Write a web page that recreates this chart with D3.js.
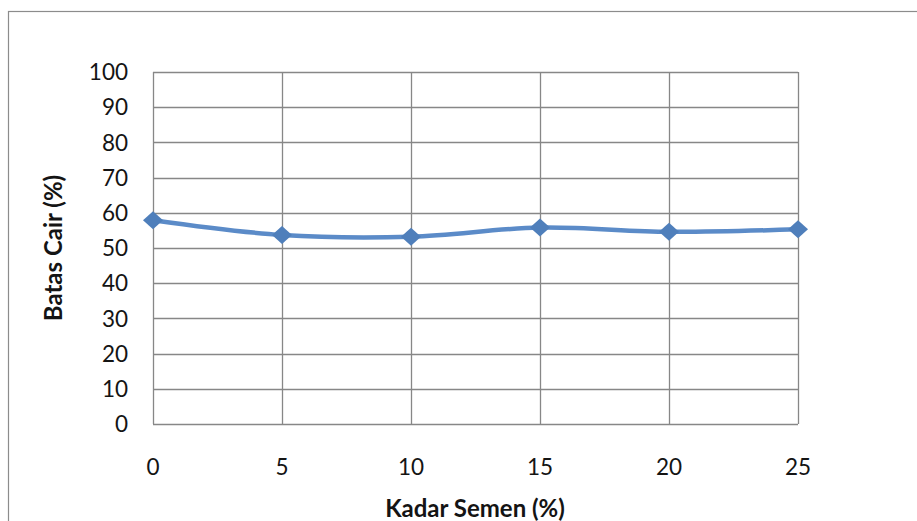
<!DOCTYPE html>
<html>
<head>
<meta charset="utf-8">
<script src="https://cdn.jsdelivr.net/npm/d3@7"></script>
<style>
  html, body { margin: 0; padding: 0; background: #ffffff; }
  svg { display: block; font-family: Lato, "Open Sans", sans-serif; }
</style>
</head>
<body>
<svg id="chart" width="917" height="521"></svg>
<script>
// Cement content (%) vs. liquid limit (%)
const kadarSemen = [0, 5, 10, 15, 20, 25];
const batasCair = [57.9, 53.7, 53.2, 55.8, 54.6, 55.3];
const yTicks = [0, 10, 20, 30, 40, 50, 60, 70, 80, 90, 100];
const xTicks = [0, 5, 10, 15, 20, 25];

const svg = d3.select("#chart");
const plot = { left: 153, right: 798, top: 72, bottom: 424 };

const x = d3.scaleLinear().domain([0, 25]).range([plot.left, plot.right]);
const y = d3.scaleLinear().domain([0, 100]).range([plot.bottom, plot.top]);

// outer chart frame (only top/left edges fall inside the view)
svg.append("rect")
  .attr("x", 8.5).attr("y", 11.5)
  .attr("width", 1200).attr("height", 1200)
  .attr("fill", "none").attr("stroke", "#8c8c8c").attr("stroke-width", 1.2);

const gridColor = "#878787";

// horizontal gridlines
svg.append("g")
  .selectAll("line")
  .data(yTicks)
  .join("line")
  .attr("x1", plot.left).attr("x2", plot.right)
  .attr("y1", d => Math.round(y(d)) + 0.5).attr("y2", d => Math.round(y(d)) + 0.5)
  .attr("stroke", gridColor).attr("stroke-width", 1.3);

// vertical gridlines
svg.append("g")
  .selectAll("line")
  .data(xTicks)
  .join("line")
  .attr("x1", d => Math.round(x(d)) + 0.5).attr("x2", d => Math.round(x(d)) + 0.5)
  .attr("y1", plot.top).attr("y2", plot.bottom)
  .attr("stroke", gridColor).attr("stroke-width", 1.3);

// y tick labels
svg.append("g")
  .selectAll("text")
  .data(yTicks)
  .join("text")
  .attr("x", plot.left - 25)
  .attr("y", d => y(d))
  .attr("dy", "0.36em")
  .attr("text-anchor", "end")
  .attr("font-size", 22.5)
  .attr("fill", "#141414")
  .text(d => d);

// x tick labels
svg.append("g")
  .selectAll("text")
  .data(xTicks)
  .join("text")
  .attr("x", d => x(d))
  .attr("y", 467)
  .attr("dy", "0.36em")
  .attr("text-anchor", "middle")
  .attr("font-size", 22.5)
  .attr("fill", "#141414")
  .text(d => d);

// axis titles
svg.append("text")
  .attr("x", 475)
  .attr("y", 508)
  .attr("dy", "0.36em")
  .attr("text-anchor", "middle")
  .attr("font-size", 24)
  .attr("font-weight", "bold")
  .attr("fill", "#141414")
  .text("Kadar Semen (%)");

svg.append("text")
  .attr("transform", `translate(53,248) rotate(-90)`)
  .attr("dy", "0.36em")
  .attr("text-anchor", "middle")
  .attr("font-size", 24)
  .attr("font-weight", "bold")
  .attr("fill", "#141414")
  .text("Batas Cair (%)");

// smoothed data line
const points = kadarSemen.map((k, i) => [k, batasCair[i]]);
const line = d3.line()
  .x(d => x(d[0]))
  .y(d => y(d[1]))
  .curve(d3.curveCatmullRom.alpha(0.5));

svg.append("path")
  .datum(points)
  .attr("d", line)
  .attr("fill", "none")
  .attr("stroke", "#5b8bc8")
  .attr("stroke-width", 4.5)
  .attr("stroke-linejoin", "round");

// diamond markers
const diamond = "M0,-9 L10,0 L0,9 L-10,0 Z";
svg.append("g")
  .selectAll("path")
  .data(points)
  .join("path")
  .attr("transform", d => `translate(${x(d[0])},${y(d[1])})`)
  .attr("d", diamond)
  .attr("fill", "#4f7fbb");
</script>
</body>
</html>
